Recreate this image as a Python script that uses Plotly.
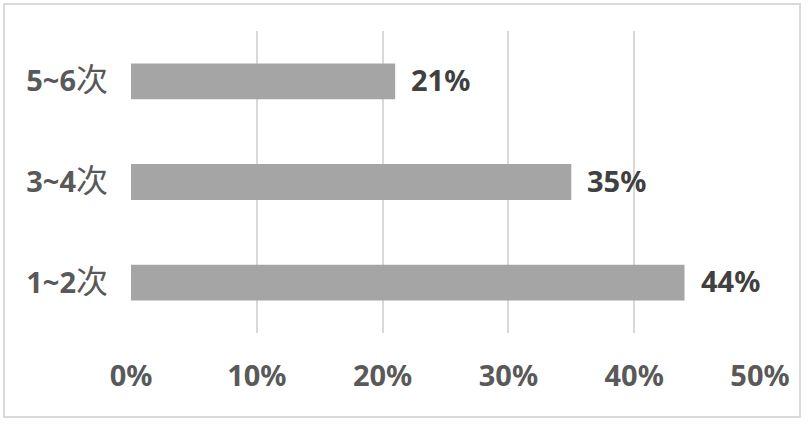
import plotly.graph_objects as go

categories = ["1~2次", "3~4次", "5~6次"]
values = [0.44, 0.35, 0.21]
value_labels = ["44%", "35%", "21%"]
tick_vals = [0, 0.1, 0.2, 0.3, 0.4, 0.5]
tick_labels = ["0%", "10%", "20%", "30%", "40%", "50%"]

W, H = 808, 429
L, T = 131, 31
R = W - 760
B = H - 333
pw, ph = W - L - R, H - T - B

fig = go.Figure()
fig.add_trace(go.Bar(
    y=categories, x=values, orientation="h",
    marker=dict(color="#A5A5A5", line=dict(width=0)),
    hoverinfo="skip",
))

for c, v, t in zip(categories, values, value_labels):
    fig.add_annotation(x=v, y=c, text=t, showarrow=False, xanchor="left",
                       xshift=14, yshift=2,
                       font=dict(family="Noto Sans", size=29, color="#404040", weight="bold"))

ticktext_y = []
for c in categories:
    num, suffix = c[:-1], c[-1]
    ticktext_y.append(f"<b>{num}</b><span style='font-size:32px'>{suffix}</span>")

def px_x(p):
    return (p - L) / pw

def px_y(p):
    return (H - B - p) / ph

fig.add_shape(type="rect", xref="paper", yref="paper",
              x0=px_x(4), x1=px_x(800), y0=px_y(417), y1=px_y(4),
              line=dict(color="#D9D9D9", width=2), fillcolor="rgba(0,0,0,0)", layer="below")

fig.update_layout(
    width=W, height=H,
    margin=dict(l=L, r=R, t=T, b=B, pad=0),
    paper_bgcolor="white", plot_bgcolor="white",
    bargap=0.644,
    showlegend=False,
    xaxis=dict(range=[0, 0.5], tickvals=tick_vals, ticktext=tick_labels,
               showgrid=True, gridcolor="#D9D9D9", gridwidth=2,
               zeroline=False, showline=False, ticks="",
               ticklabelstandoff=23,
               tickfont=dict(family="Noto Sans", size=29, color="#595959", weight="bold"),
               fixedrange=True),
    yaxis=dict(tickvals=categories, ticktext=ticktext_y,
               showgrid=False, zeroline=False, showline=False, ticks="",
               ticklabelstandoff=22,
               tickfont=dict(family="Noto Sans, Noto Sans CJK SC", size=29, color="#595959"),
               fixedrange=True),
)

fig.write_html("out.html", config={"displayModeBar": False},
               post_script="document.body.style.margin='0';document.body.style.overflow='hidden';")
